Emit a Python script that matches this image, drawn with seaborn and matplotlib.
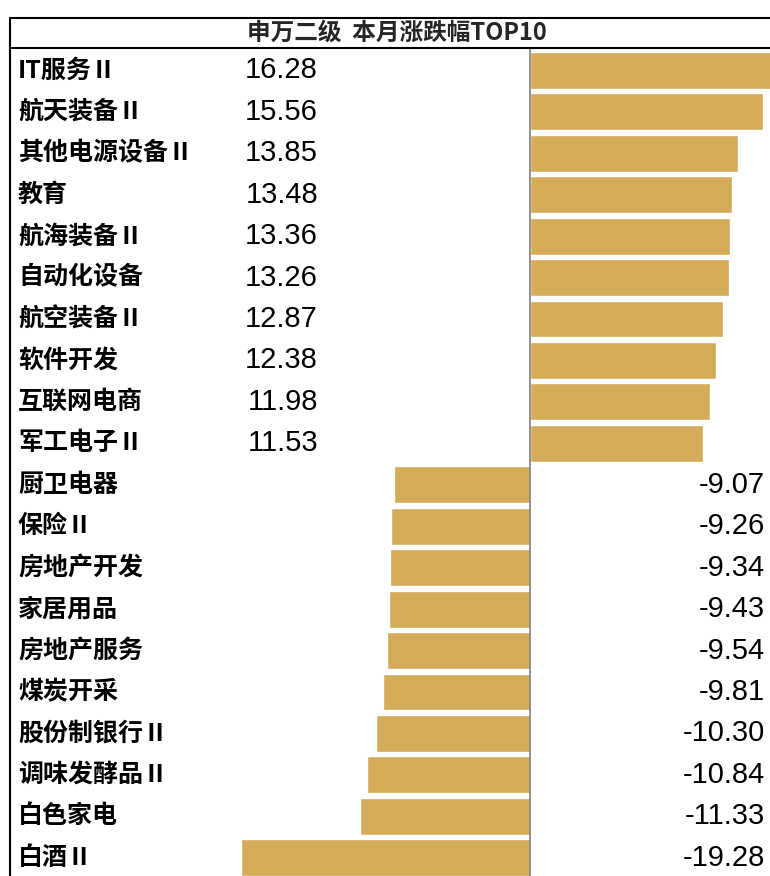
import matplotlib
matplotlib.use("Agg")
import pandas as pd
import seaborn as sns
import matplotlib.pyplot as plt
from matplotlib.lines import Line2D

# 申万二级 本月涨跌幅 TOP10 (top / bottom)
categories = [
    "IT服务Ⅱ", "航天装备Ⅱ", "其他电源设备Ⅱ", "教育", "航海装备Ⅱ",
    "自动化设备", "航空装备Ⅱ", "软件开发", "互联网电商", "军工电子Ⅱ",
    "厨卫电器", "保险Ⅱ", "房地产开发", "家居用品", "房地产服务",
    "煤炭开采", "股份制银行Ⅱ", "调味发酵品Ⅱ", "白色家电", "白酒Ⅱ",
]
changes = [
    16.28, 15.56, 13.85, 13.48, 13.36, 13.26, 12.87, 12.38, 11.98, 11.53,
    -9.07, -9.26, -9.34, -9.43, -9.54, -9.81, -10.30, -10.84, -11.33, -19.28,
]
title = "申万二级  本月涨跌幅TOP10"

df = pd.DataFrame({"name": categories, "chg": changes})

sns.set_style("white")
cjk = ["Noto Sans CJK SC", "DejaVu Sans"]
plt.rcParams["font.family"] = cjk

W, H = 770, 876
fig = plt.figure(figsize=(W / 100, H / 100), dpi=100)

# axes: from x=10px to right edge, from title line (48px) to bottom
ax = fig.add_axes([10 / W, 0, 1 - 10 / W, 1 - 48 / H])
sns.barplot(data=df, y="name", x="chg", orient="h", color="#D4AC5A",
            saturation=1, width=0.89, ax=ax)

# 15 px per unit, zero at x=530px
px = 15.0
ax.set_xlim((10 - 530) / px, (770 - 530) / px)
ax.set_ylim(19.44, -0.54)
ax.axvline(0, color="#808080", lw=1.2)

for i, row in df.iterrows():
    ax.text((18 - 530) / px, i, row["name"], ha="left", va="center",
            fontsize=18, fontweight="bold", family=cjk, color="black")
    if row["chg"] >= 0:
        xv = (318 - 530) / px
    else:
        xv = (765 - 530) / px
    ax.text(xv, i, f"{row['chg']:.2f}", ha="right", va="center",
            fontsize=21, family=["Liberation Sans"], color="black")

ax.set_xlabel("")
ax.set_ylabel("")
ax.set_xticks([])
ax.set_yticks([])
for s in ax.spines.values():
    s.set_visible(False)

# table-like frame
lw = 1.5
fig.add_artist(Line2D([10 / W, 1], [1 - 18 / H, 1 - 18 / H], color="black", lw=lw))
fig.add_artist(Line2D([10 / W, 1], [1 - 48 / H, 1 - 48 / H], color="black", lw=lw))
fig.add_artist(Line2D([10 / W, 10 / W], [0, 1 - 18 / H], color="black", lw=lw))

fig.text(397 / W, 1 - 33 / H, title, ha="center", va="center",
         fontsize=17, fontweight="bold", family=cjk)

fig.savefig("out.png", dpi=100)
